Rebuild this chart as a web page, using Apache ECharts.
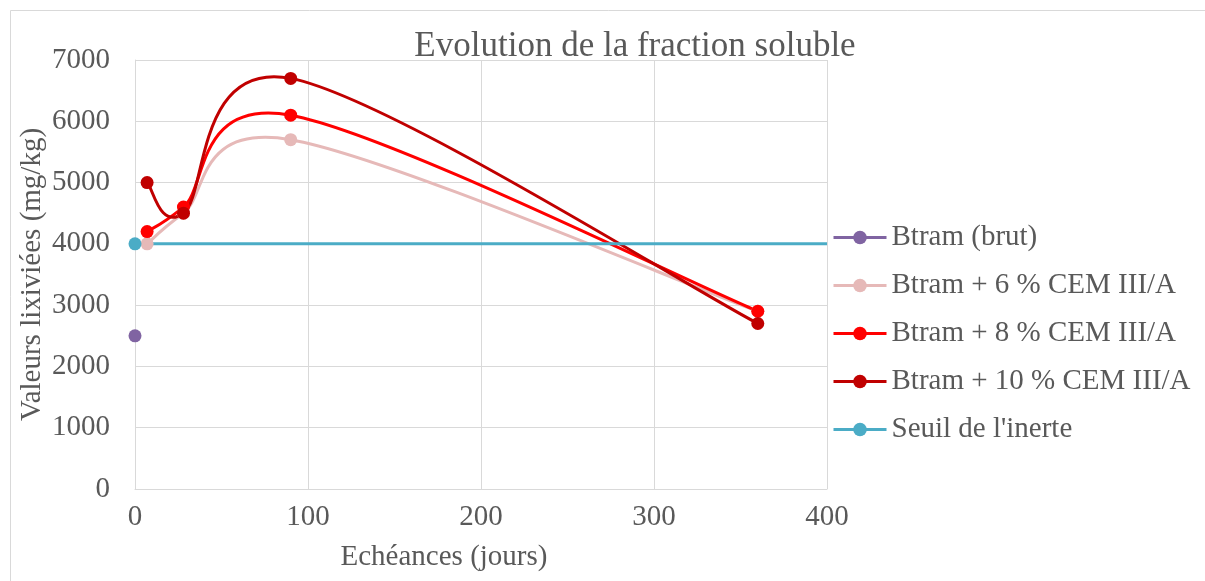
<!DOCTYPE html>
<html><head><meta charset="utf-8">
<script src="https://cdn.jsdelivr.net/npm/echarts@6/dist/echarts.min.js"></script>
<style>html,body{margin:0;padding:0;background:#fff}#c{width:1205px;height:581px}</style>
</head><body><div id="c"></div>
<script>
const seriesNames = ["Btram (brut)", "Btram + 6 % CEM III/A", "Btram + 8 % CEM III/A", "Btram + 10 % CEM III/A", "Seuil de l'inerte"];
const colors = ["#8064A2", "#E6B9B8", "#FF0000", "#C00000", "#4BACC6"];
const brutX = [0];
const brutY = [2500];
const daysX = [7, 28, 90, 360];
const cem6 = [4000, 4500, 5700, 2900];
const cem8 = [4200, 4600, 6100, 2900];
const cem10 = [5000, 4500, 6700, 2700];
const seuilX = [0, 400];
const seuilY = [4000, 4000];
const xTicks = [0, 100, 200, 300, 400];
const yTicks = [0, 1000, 2000, 3000, 4000, 5000, 6000, 7000];

const font = "'Liberation Serif', 'Times New Roman', serif";
const txt = "#595959";
const grid = "#D9D9D9";
const FS = 29;

function pairs(xs, ys) { return xs.map((x, i) => [x, ys[i]]); }

// Excel-style smoothed curve (Bezier with 1/6 tangents) drawn through the axis scales
function curveSeries(xs, ys, color) {
  return {
    type: 'custom', name: '_curve', data: [[xs[0], ys[0]]], animation: false, silent: true, z: 2,
    clip: true,
    renderItem: function (params, api) {
      const p = xs.map((x, i) => api.coord([x, ys[i]]));
      const n = p.length;
      let d = 'M' + p[0][0] + ' ' + p[0][1];
      for (let i = 0; i < n - 1; i++) {
        const p0 = p[Math.max(i - 1, 0)], p1 = p[i], p2 = p[i + 1], p3 = p[Math.min(i + 2, n - 1)];
        const c1 = [p1[0] + (p2[0] - p0[0]) / 6, p1[1] + (p2[1] - p0[1]) / 6];
        const c2 = [p2[0] - (p3[0] - p1[0]) / 6, p2[1] - (p3[1] - p1[1]) / 6];
        d += ' C' + c1[0] + ' ' + c1[1] + ' ' + c2[0] + ' ' + c2[1] + ' ' + p2[0] + ' ' + p2[1];
      }
      return { type: 'path', shape: { pathData: d }, style: { fill: null, stroke: color, lineWidth: 3, lineJoin: 'round', lineCap: 'round' } };
    }
  };
}
function markers(name, color, data, showLine) {
  return { name, type: 'line', data, smooth: false, symbol: 'circle', symbolSize: 13,
    lineStyle: showLine ? { color, width: 3 } : { color, width: 0, opacity: 0 },
    itemStyle: { color }, animation: false, z: 2 };
}
const series = [
  markers(seriesNames[0], colors[0], pairs(brutX, brutY), true),
  curveSeries(daysX, cem6, colors[1]), markers(seriesNames[1], colors[1], pairs(daysX, cem6), false),
  curveSeries(daysX, cem8, colors[2]), markers(seriesNames[2], colors[2], pairs(daysX, cem8), false),
  curveSeries(daysX, cem10, colors[3]), markers(seriesNames[3], colors[3], pairs(daysX, cem10), false),
  markers(seriesNames[4], colors[4], pairs(seuilX, seuilY).map((p, i) => i === 0 ? p : { value: p, symbol: 'none' }), true)
];

const chart = echarts.init(document.getElementById('c'), null, { renderer: 'canvas' });
chart.setOption({
  backgroundColor: '#fff',
  animation: false,
  title: { text: 'Evolution de la fraction soluble', left: 630, top: 24, textAlign: 'center',
    textStyle: { fontFamily: font, fontSize: 35, fontWeight: 'normal', color: txt } },
  graphic: [{ type: 'rect', shape: { x: 10.5, y: 10.5, width: 1210, height: 600 }, style: { fill: 'none', stroke: '#D9D9D9', lineWidth: 1 }, silent: true }],
  legend: { orient: 'vertical', left: 832, top: 223, padding: 0, itemWidth: 53, itemHeight: 17, itemGap: 19,
    textStyle: { fontFamily: font, fontSize: FS, lineHeight: 28, color: txt },
    data: seriesNames.map((n, i) => ({ name: n, itemStyle: { color: colors[i] }, lineStyle: { color: colors[i], width: 3, opacity: 1 } })) },
  grid: { left: 135, top: 60, right: 378, bottom: 92, containLabel: false },
  xAxis: { type: 'value', min: xTicks[0], max: xTicks[xTicks.length - 1], interval: 100,
    name: 'Echéances (jours)', nameLocation: 'middle', nameGap: 54, nameMoveOverlap: false,
    nameTextStyle: { fontFamily: font, fontSize: FS, color: txt, padding: [0, 74, 0, 0] },
    axisLine: { show: true, lineStyle: { color: grid, width: 1 } }, axisTick: { show: false },
    axisLabel: { fontFamily: font, fontSize: FS, color: txt, margin: 14, formatter: v => String(v) },
    splitLine: { show: true, lineStyle: { color: grid, width: 1 } } },
  yAxis: { type: 'value', min: yTicks[0], max: yTicks[yTicks.length - 1], interval: 1000,
    name: 'Valeurs lixiviées (mg/kg)', nameLocation: 'middle', nameGap: 88, nameRotate: 90, nameMoveOverlap: false,
    nameTextStyle: { fontFamily: font, fontSize: FS, color: txt },
    axisLine: { show: true, lineStyle: { color: grid, width: 1 } }, axisTick: { show: false },
    axisLabel: { fontFamily: font, fontSize: FS, color: txt, margin: 25, formatter: v => String(v) },
    splitLine: { show: true, lineStyle: { color: grid, width: 1 } } },
  series: series
});
</script></body></html>
